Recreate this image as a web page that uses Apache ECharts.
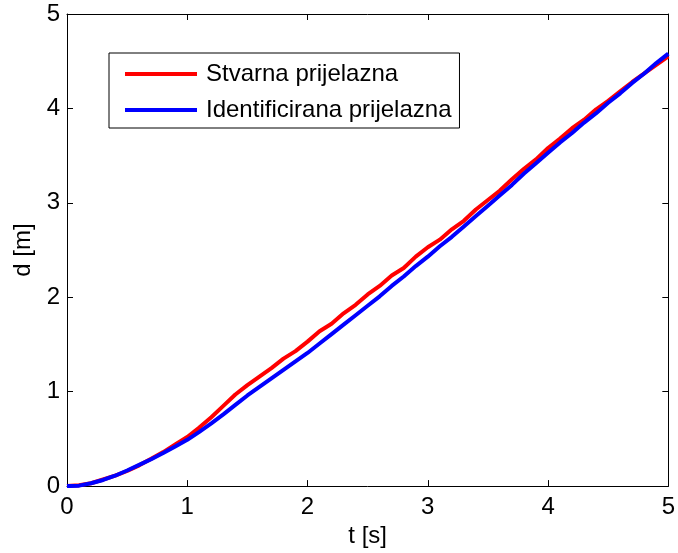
<!DOCTYPE html>
<html>
<head>
<meta charset="utf-8">
<script src="https://cdn.jsdelivr.net/npm/echarts@6/dist/echarts.min.js"></script>
<style>
html,body{margin:0;padding:0;background:#fff;}
#chart{width:678px;height:553px;}
</style>
</head>
<body>
<div id="chart"></div>
<script>
var times = [0.0,0.1,0.2,0.3,0.4,0.5,0.6,0.7,0.8,0.9,1.0,1.1,1.2,1.3,1.4,1.5,1.6,1.7,1.8,1.9,2.0,2.1,2.2,2.3,2.4,2.5,2.6,2.7,2.8,2.9,3.0,3.1,3.2,3.3,3.4,3.5,3.6,3.7,3.8,3.9,4.0,4.1,4.2,4.3,4.4,4.5,4.6,4.7,4.8,4.9,5.0];
var stvarna = [0.00,0.01,0.03,0.07,0.11,0.16,0.22,0.29,0.36,0.44,0.52,0.62,0.73,0.85,0.97,1.07,1.16,1.25,1.35,1.43,1.53,1.64,1.72,1.83,1.92,2.03,2.12,2.23,2.31,2.43,2.53,2.61,2.72,2.81,2.93,3.03,3.13,3.25,3.36,3.46,3.58,3.68,3.79,3.88,3.99,4.08,4.18,4.28,4.37,4.46,4.55];
var identificirana = [0.00,0.005,0.03,0.065,0.11,0.165,0.225,0.285,0.35,0.42,0.49,0.575,0.665,0.76,0.86,0.96,1.05,1.14,1.23,1.32,1.41,1.51,1.61,1.71,1.81,1.91,2.01,2.12,2.22,2.33,2.43,2.54,2.64,2.75,2.86,2.97,3.08,3.19,3.31,3.42,3.53,3.64,3.74,3.85,3.95,4.06,4.16,4.27,4.37,4.48,4.58];
var seriesNames = ['Stvarna prijelazna','Identificirana prijelazna'];
var xTicks = [0,1,2,3,4,5];
var yTicks = [0,1,2,3,4,5];

function pairs(v){ return times.map(function(t,i){ return [t, v[i]]; }); }

var FONT = 'Liberation Sans, Arial, sans-serif';
var FS = 24;
var chart = echarts.init(document.getElementById('chart'), null, {renderer:'canvas'});
var axisBase = {
  type:'value', min:xTicks[0], max:xTicks[xTicks.length-1], interval:1,
  axisLine:{show:true, onZero:false, lineStyle:{color:'#000', width:1}},
  axisTick:{show:true, inside:true, length:6, lineStyle:{color:'#000'}},
  splitLine:{show:false}
};
chart.setOption({
  animation:false,
  backgroundColor:'#fff',
  grid:{left:67, top:14, right:5, bottom:64, containLabel:false},
  legend:{
    orient:'vertical', left:109, top:53,
    data:[{name:seriesNames[0], icon:'rect'},{name:seriesNames[1], icon:'rect'}],
    itemWidth:72, itemHeight:4, itemGap:10,
    padding:[8,8,5,16],
    borderColor:'#000', borderWidth:1, backgroundColor:'#fff',
    textStyle:{fontFamily:FONT, fontSize:FS, color:'#000', lineHeight:26, padding:[0,0,0,4]}
  },
  xAxis:[
    Object.assign({}, axisBase, {
      position:'bottom',
      name:'t [s]', nameLocation:'middle', nameGap:36,
      nameTextStyle:{fontFamily:FONT, fontSize:FS, color:'#000'},
      axisLabel:{fontFamily:FONT, fontSize:FS, color:'#000', margin:9,
        formatter:function(v){ return xTicks.indexOf(v)>=0 ? String(v) : ''; }}
    }),
    Object.assign({}, axisBase, {position:'top', axisLabel:{show:false}})
  ],
  yAxis:[
    Object.assign({}, axisBase, {
      min:yTicks[0], max:yTicks[yTicks.length-1],
      position:'left',
      name:'d [m]', nameLocation:'middle', nameGap:31, nameRotate:90,
      nameTextStyle:{fontFamily:FONT, fontSize:FS, color:'#000'},
      axisLabel:{fontFamily:FONT, fontSize:FS, color:'#000', margin:7,
        formatter:function(v){ return yTicks.indexOf(v)>=0 ? String(v) : ''; }}
    }),
    Object.assign({}, axisBase, {min:yTicks[0], max:yTicks[yTicks.length-1], position:'right', axisLabel:{show:false}})
  ],
  series:[
    {name:seriesNames[0], type:'line', data:pairs(stvarna), showSymbol:false, symbol:'none',
      lineStyle:{color:'#ff0000', width:4}, itemStyle:{color:'#ff0000'}},
    {name:seriesNames[1], type:'line', data:pairs(identificirana), showSymbol:false, symbol:'none',
      lineStyle:{color:'#0000ff', width:4}, itemStyle:{color:'#0000ff'}}
  ]
});
</script>
</body>
</html>
